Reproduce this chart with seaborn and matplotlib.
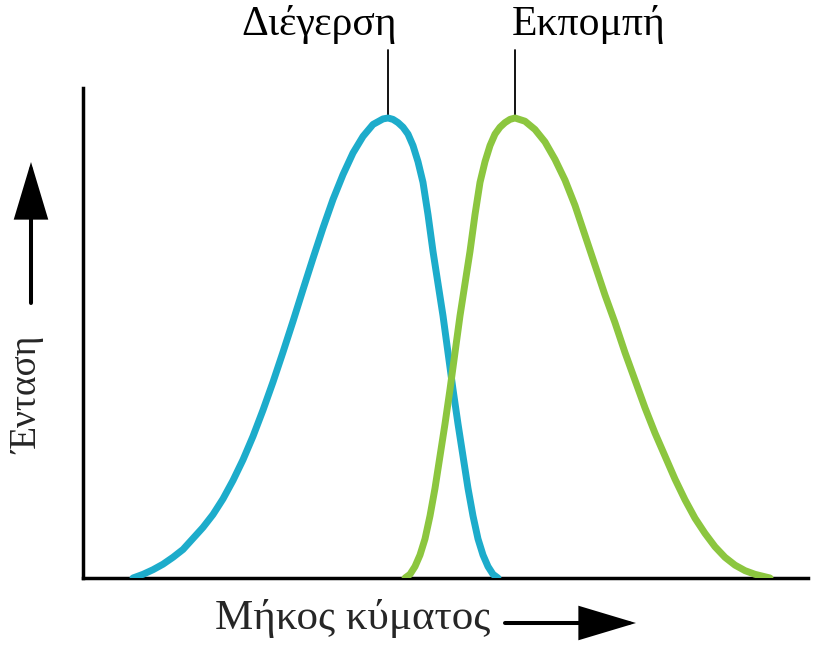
import matplotlib
matplotlib.use("Agg")
import matplotlib.pyplot as plt
import pandas as pd
import seaborn as sns

# Wavelength (arbitrary units) and relative intensity of each spectrum
excitation_wavelength = [50, 60, 70, 80, 90, 100, 110, 120, 130, 140, 150, 160, 170, 180, 190,
                         200, 210, 220, 230, 240, 250, 260, 270, 280, 290, 300, 305,
                         310, 315, 320, 325, 330, 335, 340, 345, 350, 355, 360, 365, 370,
                         375, 380, 385, 390, 395, 400, 405, 410, 415]
excitation_intensity = [0.0, 0.008, 0.018, 0.03, 0.045, 0.062, 0.086, 0.11, 0.138, 0.172, 0.212,
                        0.257, 0.308, 0.365, 0.426, 0.491, 0.558, 0.627, 0.695, 0.761, 0.823,
                        0.877, 0.924, 0.96, 0.986, 0.998, 1.0,
                        0.997, 0.99, 0.98, 0.965, 0.94, 0.905, 0.86, 0.79, 0.71, 0.64, 0.57,
                        0.49, 0.41, 0.335, 0.265, 0.195, 0.135, 0.085, 0.05, 0.025, 0.008, 0.0]
emission_wavelength = [322, 327, 332, 337, 342, 347, 352, 357, 362, 367, 372, 377, 382, 387,
                       392, 397, 402, 407, 412, 417, 422, 427, 432,
                       442, 452, 462, 472, 482, 492, 502, 512, 522, 532, 542, 552, 562, 572,
                       582, 592, 602, 612, 622, 632, 642, 652, 662, 672, 687]
emission_intensity = [0.0, 0.008, 0.025, 0.05, 0.085, 0.135, 0.195, 0.265, 0.335, 0.41, 0.49,
                      0.57, 0.64, 0.71, 0.79, 0.86, 0.905, 0.94, 0.965, 0.98, 0.99, 0.997, 1.0,
                      0.993, 0.975, 0.948, 0.91, 0.865, 0.81, 0.745, 0.68, 0.615, 0.555, 0.49,
                      0.43, 0.37, 0.315, 0.265, 0.215, 0.17, 0.13, 0.097, 0.068, 0.045, 0.028,
                      0.016, 0.008, 0.0]
spectrum_names = ["Διέγερση", "Εκπομπή"]
x_label = "Μήκος κύματος"
y_label = "Ένταση"

sns.set_style("white")
plt.rcParams["font.family"] = ["Liberation Serif", "DejaVu Serif"]

df = pd.concat([
    pd.DataFrame({"wavelength": excitation_wavelength, "intensity": excitation_intensity,
                  "spectrum": spectrum_names[0]}),
    pd.DataFrame({"wavelength": emission_wavelength, "intensity": emission_intensity,
                  "spectrum": spectrum_names[1]}),
])
palette = {spectrum_names[0]: "#1DACCB", spectrum_names[1]: "#8CC63F"}

W, H = 823, 645
fig = plt.figure(figsize=(W / 100, H / 100), dpi=100)
fig.patch.set_facecolor("white")
ax = fig.add_axes([83 / W, 67 / H, 725 / W, 490 / H])

sns.lineplot(data=df, x="wavelength", y="intensity", hue="spectrum", palette=palette,
             linewidth=5, legend=False, sort=False, ax=ax, zorder=3,
             solid_capstyle="round", solid_joinstyle="round")

ax.set_xlim(0, 725)
ax.set_ylim(0, 490 / 460)
ax.set_xticks([])
ax.set_yticks([])
ax.set_xlabel("")
ax.set_ylabel("")
sns.despine(ax=ax)
for side in ("left", "bottom"):
    ax.spines[side].set_color("black")
    ax.spines[side].set_linewidth(2.5)
    ax.spines[side].set_capstyle("projecting")

# Peak labels with leader lines
label_top = 1.148
label_baseline = 1.180
offsets = [-68.5, 73.5]
for name, xs, ys, dx in zip(spectrum_names,
                            [excitation_wavelength, emission_wavelength],
                            [excitation_intensity, emission_intensity], offsets):
    i_peak = ys.index(max(ys))
    xp = xs[i_peak]
    ax.plot([xp, xp], [ys[i_peak], label_top], color="black", lw=1.3,
            zorder=1, clip_on=False)
    ax.text(xp + dx, label_baseline, name, ha="center", va="baseline",
            fontsize=30, color="black", clip_on=False)

# Axis titles with direction arrows
fig.text(352.5 / W, (H - 629) / H, x_label, ha="center", va="baseline", fontsize=31)
fig.text(28 / W, 1 - 395 / H, y_label, ha="center", va="center", rotation=90, fontsize=27)

arrow_props = dict(arrowstyle="-|>,head_length=3.5,head_width=1.05", lw=2.9,
                   color="black", shrinkA=0, shrinkB=0, mutation_scale=10,
                   joinstyle="miter")
ax.annotate("", xy=(636, H - 623), xytext=(505, H - 623),
            xycoords="figure pixels", textcoords="figure pixels",
            arrowprops=arrow_props, annotation_clip=False)
ax.annotate("", xy=(31, H - 162), xytext=(31, H - 303),
            xycoords="figure pixels", textcoords="figure pixels",
            arrowprops=arrow_props, annotation_clip=False)

fig.savefig("out.png", dpi=100, facecolor="white")
